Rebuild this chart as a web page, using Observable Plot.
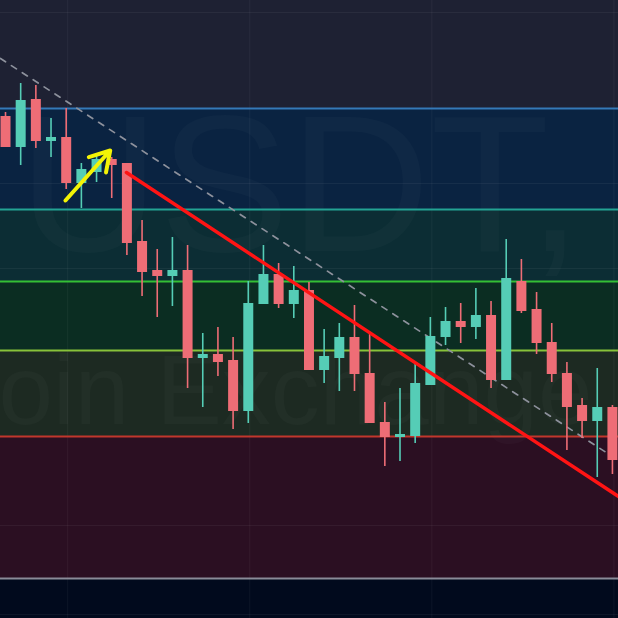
<!DOCTYPE html>
<html>
<head>
<meta charset="utf-8">
<script src="https://cdn.jsdelivr.net/npm/d3@7"></script>
<script src="https://cdn.jsdelivr.net/npm/@observablehq/plot@0.6"></script>
<style>
  html, body { margin: 0; padding: 0; background: #1e2133; overflow: hidden; }
  #chart svg { display: block; overflow: hidden; }
</style>
</head>
<body>
<div id="chart"></div>
<script>
// Candles (index = session number)
const opens  = [50.4,47.3,52.1,47.9,48.3,43.7,44.8,46.1,45.7,37.9,35.0,34.4,35.0,26.2,26.6,26.0,20.9,31.6,34.6,31.6,33.0,25.0,26.2,28.3,24.7,19.8,18.3,18.4,23.5,28.3,29.9,29.3,30.5,24.0,33.9,31.1,27.8,24.7,21.5,19.9,21.3];
const closes = [47.3,52.0,47.9,48.3,43.7,45.1,46.1,45.5,37.7,34.8,34.4,35.0,26.2,26.6,25.8,20.9,31.7,34.6,31.6,33.0,25.0,26.4,28.3,24.6,19.7,18.3,18.6,23.7,28.4,29.9,29.3,30.5,24.0,34.2,30.9,27.7,24.6,21.3,19.9,21.3,16.0];
const highs  = [50.8,53.7,53.5,50.2,51.2,45.7,46.5,46.3,45.7,40.0,37.1,38.3,37.5,28.7,29.3,28.3,33.9,37.5,35.7,35.4,33.8,29.1,29.7,31.5,28.7,21.8,23.2,25.7,30.3,31.3,31.7,33.2,31.9,38.1,36.1,32.8,29.7,25.8,22.2,25.2,21.5];
const lows   = [47.3,45.5,47.2,46.3,43.1,41.2,43.8,42.2,36.5,32.4,30.3,31.4,23.2,21.3,24.4,19.1,19.7,31.6,31.2,30.2,25.0,23.7,22.9,22.9,19.7,15.4,15.9,17.7,23.5,27.5,27.7,28.1,23.2,24.0,30.7,26.6,23.8,17.0,18.2,14.3,14.6];

// Horizontal zones (price levels) and their colours
const zoneEdges = [62, 51.2, 41.1, 33.9, 27.0, 18.4, 4.2, 0.2];
const zoneFills = ["#1e2133", "#0a2341", "#0c2d34", "#0b2d22", "#1d2a22", "#2b0f22", "#010a1d"];
const levelValues = [51.2, 41.1, 33.9, 27.0, 18.4, 4.2];
const levelColors = ["#3479b8", "#23a393", "#34bf35", "#88c23a", "#c1372c", "#8a8b98"];

// Grid
const gridX = [4.1, 16.1, 28.1, 40.1];
const gridY = [60.8, 43.7, 35.2, 9.5, 0.6];

// Drawn annotations (index, price)
const dashedTrendI = [-0.33, 40.4];
const dashedTrendP = [56.2, 16.0];
const redTrendI = [7.97, 40.4];
const redTrendP = [44.8, 12.4];
const arrowFrom = {i: 3.95, p: 42.0};
const arrowTo = {i: 6.9, p: 47.0};

// Watermark
const watermark1 = "USDT,";
const watermark2 = "oin Exchange";

const xDomain = [-0.33, 40.4];
const yDomain = [0.2, 62];
const upColor = "#55cdb6";
const downColor = "#ee6d76";

const candles = opens.map((o, i) => ({i, open: o, close: closes[i], high: highs[i], low: lows[i]}));
const ups = candles.filter(d => d.close >= d.open);
const downs = candles.filter(d => d.close < d.open);
const zones = zoneFills.map((f, k) => ({hi: zoneEdges[k], lo: zoneEdges[k + 1], fill: f}));
const dashed = dashedTrendI.map((i, k) => ({i, p: dashedTrendP[k]}));
const red = redTrendI.map((i, k) => ({i, p: redTrendP[k]}));

const marks = [];
zones.forEach(z => marks.push(Plot.rect([z], {x1: () => xDomain[0], x2: () => xDomain[1], y1: "lo", y2: "hi", fill: z.fill})));
marks.push(Plot.ruleX(gridX, {x: d => d, stroke: "#ffffff", strokeOpacity: 0.05, strokeWidth: 1}));
marks.push(Plot.ruleY(gridY, {y: d => d, stroke: "#ffffff", strokeOpacity: 0.05, strokeWidth: 1}));
marks.push(Plot.text([watermark1], {text: d => d, frameAnchor: "top-left", lineAnchor: "bottom", dx: 18, dy: 250, fontSize: 195, fontFamily: "Liberation Sans, Arial, sans-serif", fill: "#ffffff", fillOpacity: 0.024}));
marks.push(Plot.text([watermark2], {text: d => d, frameAnchor: "top-left", lineAnchor: "bottom", dx: -2, dy: 423, fontSize: 98, fontFamily: "Liberation Sans, Arial, sans-serif", fill: "#ffffff", fillOpacity: 0.024}));
levelValues.forEach((v, k) => marks.push(Plot.ruleY([v], {y: d => d, stroke: levelColors[k], strokeWidth: 2})));
marks.push(Plot.line(dashed, {x: "i", y: "p", stroke: "#8d919c", strokeWidth: 1.7, strokeDasharray: "6,7"}));
marks.push(Plot.ruleX(ups, {x: "i", y1: "low", y2: "high", stroke: upColor, strokeWidth: 1.6}));
marks.push(Plot.ruleX(downs, {x: "i", y1: "low", y2: "high", stroke: downColor, strokeWidth: 1.6}));
marks.push(Plot.ruleX(ups, {x: "i", y1: "open", y2: "close", stroke: upColor, strokeWidth: 10}));
marks.push(Plot.ruleX(downs, {x: "i", y1: "open", y2: "close", stroke: downColor, strokeWidth: 10}));
marks.push(Plot.line(red, {x: "i", y: "p", stroke: "#ff1414", strokeWidth: 3.5}));
marks.push(Plot.arrow([{a: arrowFrom, b: arrowTo}], {x1: d => d.a.i, y1: d => d.a.p, x2: d => d.b.i, y2: d => d.b.p, stroke: "#f3f306", strokeWidth: 4, headLength: 24, headAngle: 62}));

const chart = Plot.plot({
  width: 618,
  height: 618,
  margin: 0,
  x: {domain: xDomain, axis: null},
  y: {domain: yDomain, axis: null},
  style: {background: "#1e2133"},
  marks
});
document.getElementById("chart").appendChild(chart);
</script>
</body>
</html>
